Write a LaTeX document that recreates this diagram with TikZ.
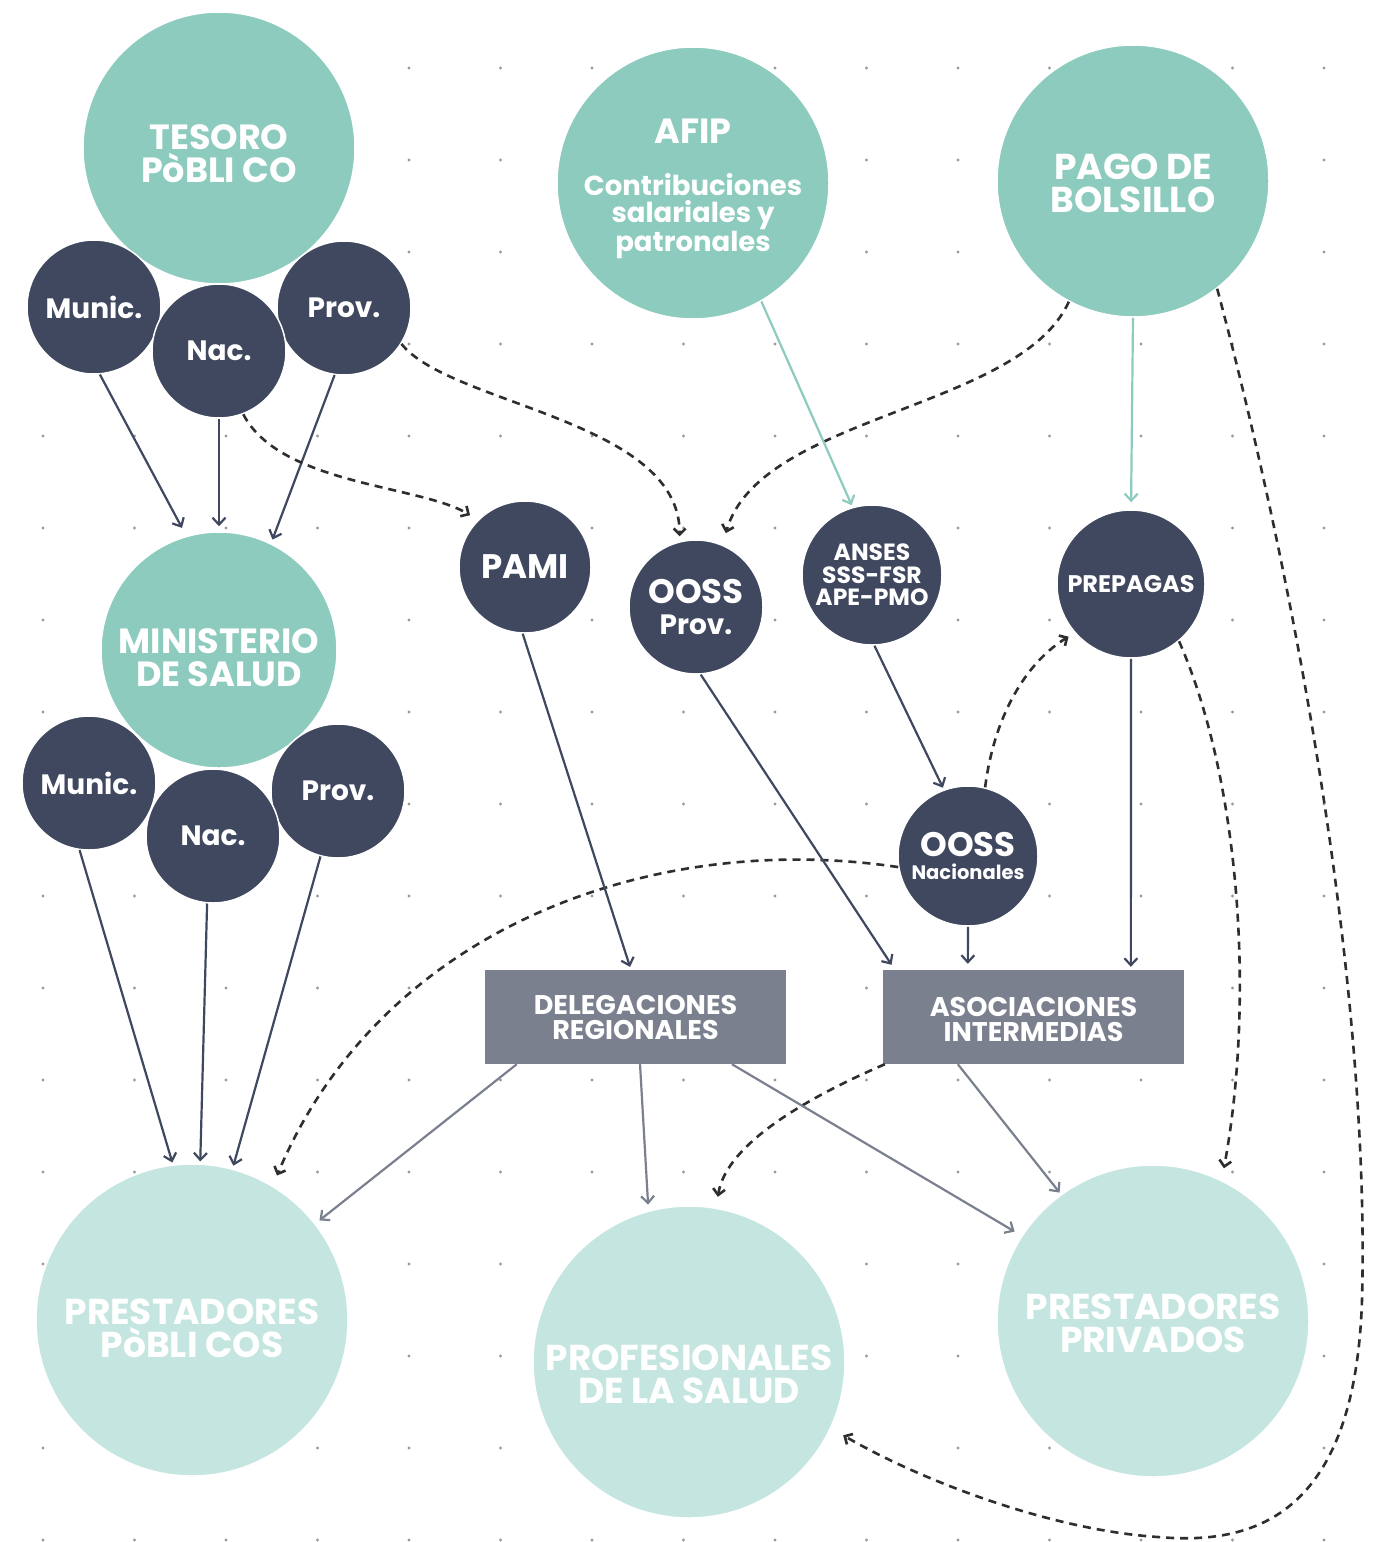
\documentclass[tikz,border=0pt]{standalone}
\usepackage{fontspec}
\setmainfont{Poppins}
\usetikzlibrary{arrows.meta,calc}
\definecolor{teal1}{HTML}{8CCBBE}
\definecolor{teal2}{HTML}{C5E6E0}
\definecolor{navy}{HTML}{404860}
\definecolor{boxg}{HTML}{7B808E}
\definecolor{dashc}{HTML}{2E2E2E}
\definecolor{dotc}{HTML}{9A9A9A}
\newcommand\lowr[1]{\rule{0pt}{#1pt}}
\tikzset{
  fnt/.style 2 args={font=\bfseries\fontsize{#1}{#2}\selectfont},
  big/.style={circle, fill=teal1, draw=white, line width=1.5pt, text=white, align=center, inner sep=0pt, minimum size=272pt, fnt={35}{33}},
  low/.style={circle, fill=teal2, draw=white, line width=1.5pt, text=white, align=center, inner sep=0pt, minimum size=312pt, fnt={36}{33}},
  sml/.style={circle, fill=navy, draw=white, line width=1.5pt, text=white, align=center, inner sep=0pt, minimum size=134pt, fnt={28}{30}},
  gbox/.style={rectangle, fill=boxg, text=white, align=center, inner sep=0pt, minimum width=301pt, minimum height=94pt, fnt={27}{25}},
  nv/.style={draw=navy, line width=2.2pt, -{Straight Barb[length=7pt,width=13pt]}},
  tl/.style={draw=teal1, line width=2.2pt, -{Straight Barb[length=7pt,width=13pt]}},
  gr/.style={draw=boxg, line width=2.2pt, -{Straight Barb[length=7pt,width=13pt]}},
  dsh/.style={draw=dashc, line width=2.6pt, dash pattern=on 8pt off 6pt, -{Straight Barb[length=6pt,width=12pt]}},
}
\begin{document}
\begin{tikzpicture}[x=1pt,y=-1pt]
\fill[white] (0,0) rectangle (1376,1542);
\useasboundingbox (0,0) rectangle (1376,1542);
% dot grid
\foreach \i in {0,...,14}{\foreach \j in {0,...,16}{
  \pgfmathtruncatemacro{\hid}{(\i<4)&&(\j<4)}
  \ifnum\hid=0 \fill[dotc] (43+91.5*\i,68+92*\j) circle (1.6); \fi}}

% top-left group
\node[big] (tes) at (219,148) {\lowr{37}TESORO\\PòBLI CO};
\node[sml] (mA) at (94,307) {Munic.};
\node[sml] (pA) at (344,308) {Prov.};
\node[sml] (nA) at (219,351) {Nac.};

\node[big, minimum size=236pt] (min) at (219,650) {\lowr{41}MINISTERIO\\DE SALUD};
\node[sml] (mB) at (89,783) {Munic.};
\node[sml] (pB) at (338,791) {Prov.};
\node[sml] (nB) at (213,836) {Nac.};

\node[low] (ppub) at (192,1320) {\lowr{43}PRESTADORES\\PòBLI COS};

% top middle/right
\node[big, fnt={27.5}{27}] (afip) at (693,183) {{\fontsize{35}{35}\selectfont\lowr{36}AFIP}\\[25pt]Contribuciones\\salariales y\\patronales};
\node[big, fnt={36}{33}] (pago) at (1133,181) {\lowr{31}PAGO DE\\BOLSILLO};

\node[sml, minimum size=132pt, fnt={34}{34}] (pami) at (525,567) {PAMI};
\node[sml] (oprov) at (696,607) {{\fontsize{34}{34}\selectfont OOSS}\\[1pt]Prov.};
\node[sml, minimum size=140pt, fnt={23.5}{22.5}] (anses) at (872,575) {ANSES\\SSS-FSR\\APE-PMO};
\node[sml, minimum size=148pt, fnt={24}{24}] (prep) at (1131,584) {PREPAGAS};
\node[sml, minimum size=140pt, fnt={19.5}{22}] (onac) at (968,856) {{\fontsize{34}{34}\selectfont OOSS}\\[1pt]Nacionales};

\node[gbox] (del) at (635.5,1017) {DELEGACIONES\\REGIONALES};
\node[gbox] (aso) at (1033.5,1017) {\lowr{24}ASOCIACIONES\\INTERMEDIAS};

\node[low] (prof) at (689,1362) {\lowr{51}PROFESIONALES\\DE LA SALUD};
\node[low] (ppriv) at (1153,1321) {\lowr{31}PRESTADORES\\PRIVADOS};

% connectors: top group to ministerio
\draw[nv,shorten >=9pt] (mA.-85) -- (min.106);
\draw[nv,shorten >=5pt] (nA.-90) -- (min.90);
\draw[nv,shorten >=4pt] (pA.-98) -- (min.64);
% ministerio group to prestadores publicos
\draw[nv,shorten >=2pt] (mB.-98) -- (ppub.97);
\draw[nv,shorten >=2pt] (nB.-95) -- (ppub.87);
\draw[nv,shorten >=3pt] (pB.-105) -- (ppub.75);

% dashed
\draw[dsh,shorten >=9pt] (nA.-69) .. controls (280,485) and (420,485) .. (pami.135);
\draw[dsh,shorten >=5pt] (pA.-32) .. controls (450,405) and (680,420) .. (oprov.104);
\draw[dsh,shorten >=12pt] (pago.-118) .. controls (1020,410) and (760,415) .. (oprov.67);
\draw[dsh,shorten >=14pt] (pago.-52) .. controls (1300,600) and (1370,1000) .. (1362,1300)
   .. controls (1355,1520) and (1250,1545) .. (1158,1537)
   .. controls (1050,1530) and (920,1480) .. (prof.-25);
\draw[dsh,shorten >=7pt] (onac.76) .. controls (995,710) and (1030,660) .. (prep.221.5);
\draw[dsh,shorten >=12pt] (prep.-50) .. controls (1240,780) and (1255,1000) .. (ppriv.64);
\draw[dsh,shorten >=11pt] (onac.-171) .. controls (650,830) and (380,930) .. (ppub.59);
\draw[dsh,shorten >=11pt] ($(aso.south west)!0.007!(aso.south east)$) .. controls (790,1105) and (725,1150) .. (prof.80);

% teal
\draw[tl,shorten >=2pt] (afip.-60) -- (anses.106);
\draw[tl,shorten >=7pt] (pago.-90) -- (prep.90);

% navy middle
\draw[nv,shorten >=3pt] (pami.-92) -- ($(del.north west)!0.485!(del.north east)$);
\draw[nv,shorten >=6pt] (oprov.-86) -- ($(aso.north west)!0.04!(aso.north east)$);
\draw[nv,shorten >=2pt] (anses.-88) -- (onac.110);
\draw[nv,shorten >=6pt] (onac.-90) -- ($(aso.north west)!0.282!(aso.north east)$);
\draw[nv,shorten >=3pt] (prep.-90) -- ($(aso.north west)!0.823!(aso.north east)$);

% gray from boxes
\draw[gr,shorten >=5pt] ($(del.south west)!0.106!(del.south east)$) -- (ppub.38);
\draw[gr,shorten >=6pt] ($(del.south west)!0.515!(del.south east)$) -- (prof.105);
\draw[gr,shorten >=8pt] ($(del.south west)!0.82!(del.south east)$) -- (ppriv.147);
\draw[gr,shorten >=2pt] ($(aso.south west)!0.249!(aso.south east)$) -- (ppriv.126);
\end{tikzpicture}
\end{document}
